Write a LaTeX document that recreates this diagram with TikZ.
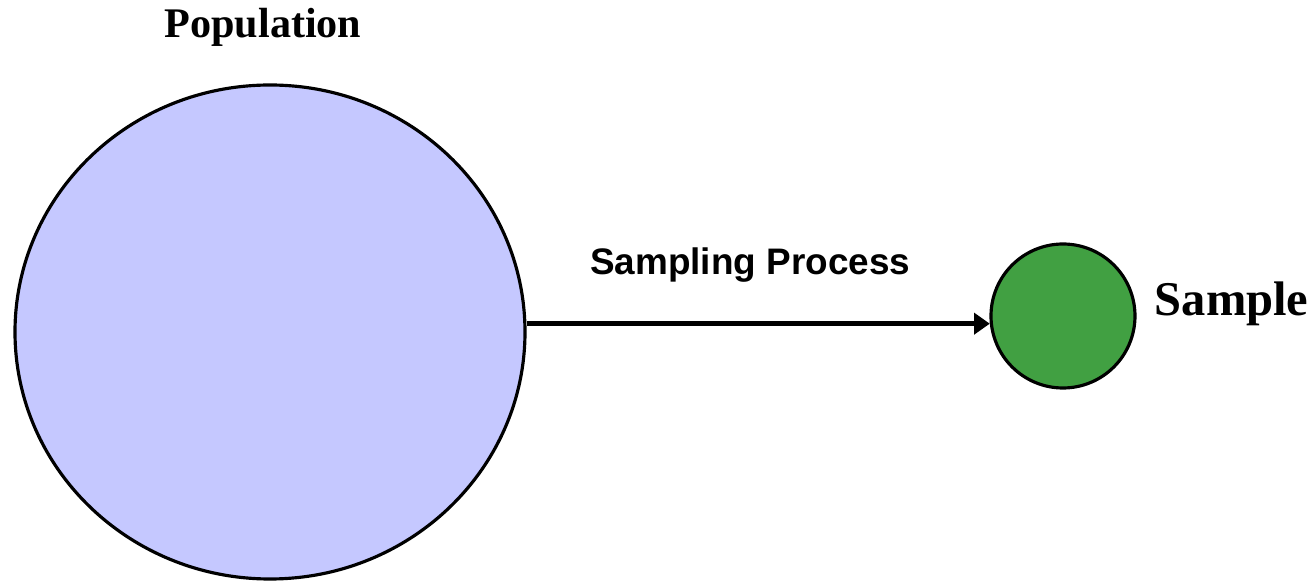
\documentclass[tikz,border=0pt]{standalone}
\usepackage{fontspec}
\setmainfont{Liberation Serif}
\setsansfont{Liberation Sans}
\usetikzlibrary{positioning,arrows.meta,shapes.geometric}

\begin{document}
\begin{tikzpicture}[line width = 0.9pt]

\useasboundingbox (0,0) rectangle (13.15,5.83);

% population and the sample drawn from it
\node [ellipse, draw, fill={rgb,255:red,197;green,200;blue,255}, minimum width=5.1cm, minimum height=4.94cm, inner sep=0pt] (pop) at (2.70,2.51) {};
\node [circle, draw, fill={rgb,255:red,65;green,160;blue,66}, minimum size=1.44cm, inner sep=0pt] (samp) at (10.63,2.67) {};

\node [font=\bfseries\fontsize{12}{14}\selectfont] (poplabel) at (2.63,5.56) {Population};
\node [font=\bfseries\fontsize{13.8}{16}\selectfont, right=0.05cm of samp, yshift=0.12cm] (samplabel) {Sample};

\draw [-{Triangle[length=4.5pt,width=6pt]}, line width=1.5pt] (samp.186 -| pop.east) -- (samp.186)
node [midway, above=0.27cm, xshift=-0.08cm, font=\sffamily\bfseries\fontsize{10.5}{12}\selectfont] (proc) {Sampling Process};

\end{tikzpicture}
\end{document}
